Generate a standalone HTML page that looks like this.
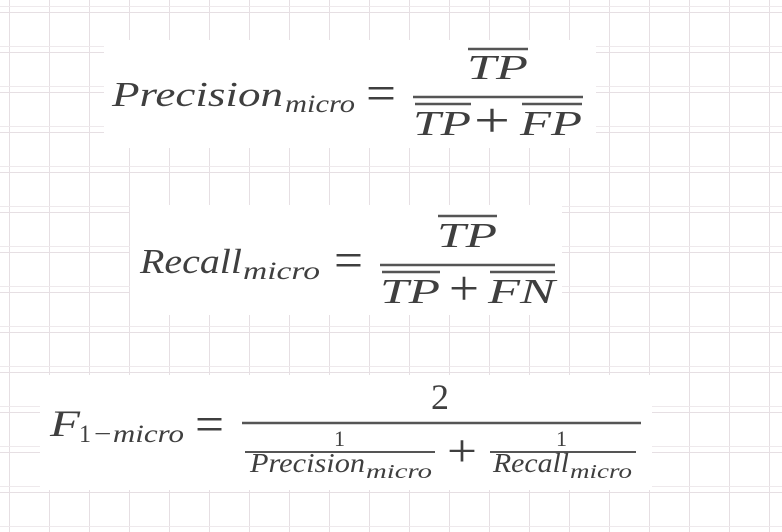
<!DOCTYPE html>
<html><head><meta charset="utf-8"><style>
html,body{margin:0;padding:0;background:#fff;}
svg{display:block;}
text{font-family:"Liberation Serif",serif;fill:#3f3f3f;}
.i{font-style:italic;}
</style></head><body>
<svg width="782" height="532">
<defs>
<pattern id="g" width="40" height="40" patternUnits="userSpaceOnUse" x="9" y="12">
<rect width="40" height="40" fill="#fff"/>
<line x1="0.5" y1="0" x2="0.5" y2="40" stroke="#e6dfe3" stroke-width="1"/>
<line x1="0" y1="0.5" x2="40" y2="0.5" stroke="#e6dfe3" stroke-width="1"/>
<line x1="0" y1="34.5" x2="40" y2="34.5" stroke="#eee9ec" stroke-width="1"/>
</pattern>
</defs>
<rect width="782" height="532" fill="url(#g)"/>
<rect x="104" y="40" width="492" height="108" fill="#fff"/>
<rect x="130" y="205" width="432" height="110" fill="#fff"/>
<rect x="40" y="375" width="612" height="115" fill="#fff"/>

<g>
<text class="i" x="112" y="106" font-size="35" textLength="171" lengthAdjust="spacingAndGlyphs">Precision</text>
<text class="i" x="285" y="112" font-size="25" textLength="70" lengthAdjust="spacingAndGlyphs">micro</text>
<text x="366" y="110" font-size="50" textLength="30" lengthAdjust="spacingAndGlyphs">=</text>
<line x1="413" y1="97" x2="583" y2="97" stroke="#555" stroke-width="2.5"/>
<line x1="468" y1="49" x2="528" y2="49" stroke="#555" stroke-width="2.5"/>
<text class="i" x="467" y="79" font-size="35" textLength="61" lengthAdjust="spacingAndGlyphs">TP</text>
<line x1="415" y1="104" x2="471" y2="104" stroke="#555" stroke-width="2.5"/>
<line x1="522" y1="104" x2="582" y2="104" stroke="#555" stroke-width="2.5"/>
<text class="i" x="413" y="135" font-size="35" textLength="58" lengthAdjust="spacingAndGlyphs">TP</text>
<text x="474" y="137" font-size="50" textLength="36" lengthAdjust="spacingAndGlyphs">+</text>
<text class="i" x="520" y="135" font-size="35" textLength="62" lengthAdjust="spacingAndGlyphs">FP</text>
</g>

<g>
<text class="i" x="140" y="273" font-size="35" textLength="102" lengthAdjust="spacingAndGlyphs">Recall</text>
<text class="i" x="243" y="279" font-size="25" textLength="77" lengthAdjust="spacingAndGlyphs">micro</text>
<text x="334" y="277" font-size="50" textLength="29" lengthAdjust="spacingAndGlyphs">=</text>
<line x1="380" y1="265" x2="555" y2="265" stroke="#555" stroke-width="2.5"/>
<line x1="438" y1="216" x2="497" y2="216" stroke="#555" stroke-width="2.5"/>
<text class="i" x="437" y="247" font-size="35" textLength="60" lengthAdjust="spacingAndGlyphs">TP</text>
<line x1="382" y1="272" x2="440" y2="272" stroke="#555" stroke-width="2.5"/>
<line x1="490" y1="272" x2="555" y2="272" stroke="#555" stroke-width="2.5"/>
<text class="i" x="380" y="303" font-size="35" textLength="60" lengthAdjust="spacingAndGlyphs">TP</text>
<text x="449" y="305" font-size="50" textLength="30" lengthAdjust="spacingAndGlyphs">+</text>
<text class="i" x="488" y="303" font-size="35" textLength="67" lengthAdjust="spacingAndGlyphs">FN</text>
</g>

<g>
<text class="i" x="50" y="436" font-size="37" textLength="30" lengthAdjust="spacingAndGlyphs">F</text>
<text x="79" y="442" font-size="25" textLength="12" lengthAdjust="spacingAndGlyphs">1</text>
<text class="i" x="92" y="442" font-size="25" textLength="92" lengthAdjust="spacingAndGlyphs">−micro</text>
<text x="195" y="441" font-size="50" textLength="29" lengthAdjust="spacingAndGlyphs">=</text>
<line x1="242" y1="423" x2="641" y2="423" stroke="#555" stroke-width="2.5"/>
<text x="431" y="409" font-size="36">2</text>
<text x="334" y="446" font-size="22">1</text>
<line x1="245" y1="452" x2="435" y2="452" stroke="#555" stroke-width="2"/>
<text class="i" x="250" y="472" font-size="27" textLength="115" lengthAdjust="spacingAndGlyphs">Precision</text>
<text class="i" x="366" y="478" font-size="20" textLength="66" lengthAdjust="spacingAndGlyphs">micro</text>
<text x="447" y="466" font-size="46" textLength="30" lengthAdjust="spacingAndGlyphs">+</text>
<text x="556" y="446" font-size="22">1</text>
<line x1="490" y1="452" x2="636" y2="452" stroke="#555" stroke-width="2"/>
<text class="i" x="493" y="472" font-size="27" textLength="76" lengthAdjust="spacingAndGlyphs">Recall</text>
<text class="i" x="570" y="478" font-size="20" textLength="62" lengthAdjust="spacingAndGlyphs">micro</text>
</g>
</svg>
</body></html>
